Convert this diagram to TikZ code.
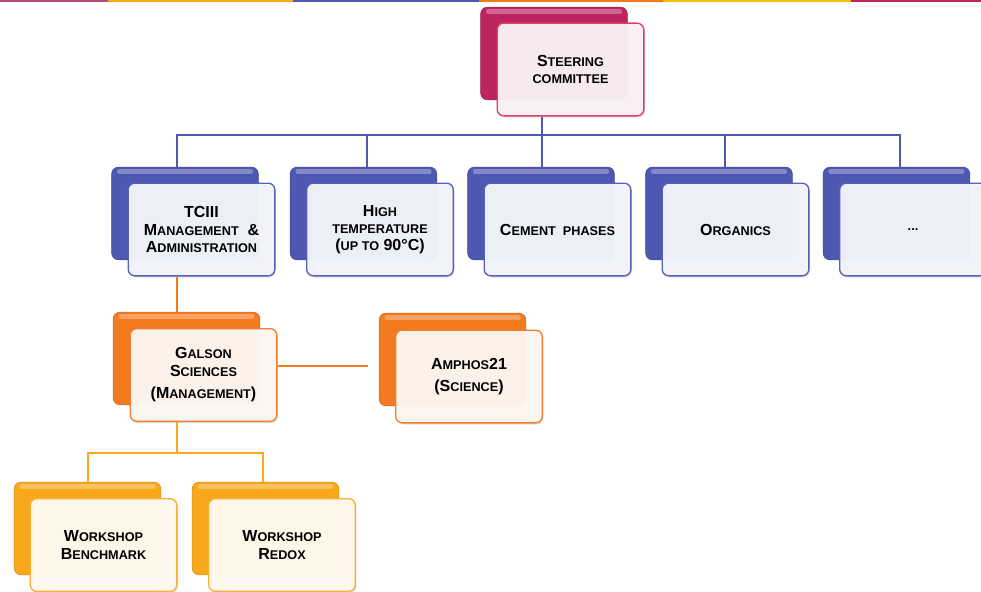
\documentclass[tikz,border=0pt]{standalone}
\usepackage{fontspec}
\setmainfont{Liberation Sans}
\usetikzlibrary{shadows}

\definecolor{crimson}{HTML}{BE2460}
\definecolor{crimsonedge}{HTML}{D8406E}
\definecolor{bluebox}{HTML}{4E58B0}
\definecolor{blueedge}{HTML}{5860B8}
\definecolor{orangebox}{HTML}{F47A20}
\definecolor{orangeedge}{HTML}{F08030}
\definecolor{yellowbox}{HTML}{F9A81B}
\definecolor{yellowedge}{HTML}{F8B030}
\definecolor{stripepink}{HTML}{B84878}
\definecolor{stripegold}{HTML}{F8C000}

\newcommand\smallcap[1]{{\fontsize{9.5}{13}\selectfont #1}}

\tikzset{
  backbox/.style={rounded corners=5pt, minimum width=110pt, minimum height=69.5pt,
    inner sep=0pt, draw=#1!85!black, fill=#1,
    path picture={\fill[white, opacity=0.3, rounded corners=1.5pt]
      ([shift={(4pt,-1.5pt)}]path picture bounding box.north west) rectangle
      ([shift={(-4pt,-5pt)}]path picture bounding box.north east);}},
  frontbox/.style 2 args={rounded corners=5pt, minimum width=110pt, minimum height=69.5pt,
    inner sep=2pt, draw=#2, line width=1pt, fill=#1!6!white, fill opacity=0.96,
    text opacity=1, align=center, text=black,
    font=\bfseries\fontsize{12}{13}\selectfont,
    drop shadow={shadow xshift=0.8pt, shadow yshift=-1.3pt, opacity=0.25}},
  blueline/.style={draw=bluebox, line width=1.5pt},
  orangeline/.style={draw=orangebox, line width=1.5pt},
  yellowline/.style={draw=yellowbox, line width=1.5pt}
}

\begin{document}
\begin{tikzpicture}[x=0.75pt, y=-0.75pt]
  \clip (0,0) rectangle (981,592);

  % Colour stripe along the top
  \fill[stripepink] (0,0) rectangle (108,2);
  \fill[yellowbox] (108,0) rectangle (293,2);
  \fill[bluebox] (293,0) rectangle (479,2);
  \fill[orangebox] (479,0) rectangle (663,2);
  \fill[stripegold] (663,0) rectangle (851,2);
  \fill[crimson] (851,0) rectangle (981,2);

  % Steering committee
  \node[backbox=crimson] (scb) at (554,53.5) {};
  \node[frontbox={crimson}{crimsonedge}] (scf) at ([shift={(16.5,16)}]scb.center)
    {S\smallcap{TEERING}\\\smallcap{COMMITTEE}};

  % Topic groups
  \node[backbox=bluebox] (tcb) at (185,213.5) {};
  \node[frontbox={bluebox}{blueedge}] (tcf) at ([shift={(16.5,16)}]tcb.center)
    {TCIII\\M\smallcap{ANAGEMENT} \ \&\\A\smallcap{DMINISTRATION}};

  \node[backbox=bluebox] (hib) at (363.5,213.5) {};
  \node[frontbox={bluebox}{blueedge}] (hif) at ([shift={(16.5,16)}]hib.center)
    {H\smallcap{IGH}\\\smallcap{TEMPERATURE}\\(\smallcap{UP TO} 90°C)};

  \node[backbox=bluebox] (ceb) at (541,213.5) {};
  \node[frontbox={bluebox}{blueedge}] (cef) at ([shift={(16.5,16)}]ceb.center)
    {C\smallcap{EMENT\ \ PHASES}};

  \node[backbox=bluebox] (orb) at (719,213.5) {};
  \node[frontbox={bluebox}{blueedge}] (orf) at ([shift={(16.5,16)}]orb.center)
    {O\smallcap{RGANICS}};

  \node[backbox=bluebox] (dob) at (896.5,213.5) {};
  \node[frontbox={bluebox}{blueedge}] (dof) at ([shift={(16.5,16)}]dob.center)
    {\smallcap{...}};

  % Management and science
  \node[backbox=orangebox] (gab) at (186.5,358.5) {};
  \node[frontbox={orangebox}{orangeedge}] (gaf) at ([shift={(17,16.5)}]gab.center)
    {G\smallcap{ALSON}\\S\smallcap{CIENCES}\\[4pt](M\smallcap{ANAGEMENT})};

  \node[backbox=orangebox] (amb) at (452.5,359.5) {};
  \node[frontbox={orangebox}{orangeedge}] (amf) at ([shift={(16.5,17)}]amb.center)
    {A\smallcap{MPHOS}21\\[3pt](S\smallcap{CIENCE})};

  % Workshops
  \node[backbox=yellowbox] (wbb) at (87.5,528.5) {};
  \node[frontbox={yellowbox}{yellowedge}] (wbf) at ([shift={(16,16.5)}]wbb.center)
    {W\smallcap{ORKSHOP}\\B\smallcap{ENCHMARK}};

  \node[backbox=yellowbox] (wrb) at (265.5,528.5) {};
  \node[frontbox={yellowbox}{yellowedge}] (wrf) at ([shift={(16.5,16.5)}]wrb.center)
    {W\smallcap{ORKSHOP}\\R\smallcap{EDOX}};

  % Connectors
  \draw[blueline] ([shift={(-28.5,0)}]scf.south) -- ++(0,18) coordinate (bar);
  \draw[blueline] (bar) -| ([shift={(-8,0)}]tcb.north);
  \draw[blueline] (bar) -| ([shift={(3.5,0)}]hib.north);
  \draw[blueline] (bar) -- (bar |- ceb.north);
  \draw[blueline] (bar) -| ([shift={(6,0)}]orb.north);
  \draw[blueline] (bar) -| ([shift={(3.5,0)}]dob.north);

  \draw[orangeline] ([shift={(-24.5,0)}]tcf.south) -- ([shift={(-9.5,0)}]gab.north);
  \draw[orangeline] ([shift={(0,-9)}]gaf.east) -- ([shift={(-11,6.5)}]amb.west);

  \draw[yellowline] ([shift={(-26.5,0)}]gaf.south) -- ++(0,31) coordinate (ybar);
  \draw[yellowline] (ybar) -| (wbb.north);
  \draw[yellowline] (ybar) -| ([shift={(-2.5,0)}]wrb.north);
\end{tikzpicture}
\end{document}
